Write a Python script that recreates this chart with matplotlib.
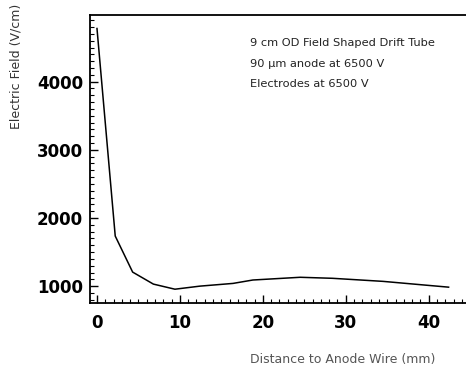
import matplotlib
matplotlib.use("Agg")
import matplotlib.pyplot as plt
from matplotlib.ticker import MultipleLocator

distance_mm = [0.0, 2.2, 4.3, 6.8, 9.4, 12.4, 16.4, 18.8, 24.5, 28.4, 34.5, 39.6, 42.4]
field_vcm = [4780, 1735, 1206, 1030, 955, 1000, 1040, 1090, 1130, 1115, 1070, 1015, 985]
x_ticks = [0, 10, 20, 30, 40]
y_ticks = [1000, 2000, 3000, 4000]
notes = ["9 cm OD Field Shaped Drift Tube", "90 \u03bcm anode at 6500 V", "Electrodes at 6500 V"]

fig = plt.figure(figsize=(4.66, 3.72), dpi=100)
ax = fig.add_axes([0.193, 0.185, 0.807, 0.775])
ax.plot(distance_mm, field_vcm, color="black", lw=1.1)
ax.set_xlim(-0.85, 44.5)
ax.set_ylim(750, 4980)
ax.set_xticks(x_ticks)
ax.set_yticks(y_ticks)
ax.xaxis.set_minor_locator(MultipleLocator(1))
ax.yaxis.set_minor_locator(MultipleLocator(100))
ax.tick_params(direction="in", length=6, width=1.0, labelsize=12, pad=8)
ax.tick_params(which="minor", direction="in", length=3, width=0.8)
ax.tick_params(axis="x", top=False)
ax.tick_params(axis="y", right=False, pad=5)
for lab in ax.get_xticklabels() + ax.get_yticklabels():
    lab.set_fontweight("semibold")
ax.spines["right"].set_visible(False)
for s in ["left", "bottom", "top"]:
    ax.spines[s].set_linewidth(1.3)

ax.set_ylabel("Electric Field (V/cm)", fontsize=9, color="#333333")
ax.yaxis.set_label_coords(-0.18, 0.82)
fig.text(0.537, 0.025, "Distance to Anode Wire (mm)", fontsize=9, color="#555555")

for i, t in enumerate(notes):
    fig.text(0.537, 0.875 - i * 0.055, t, fontsize=8.2, color="#222222")

fig.savefig("out.png", dpi=100)
